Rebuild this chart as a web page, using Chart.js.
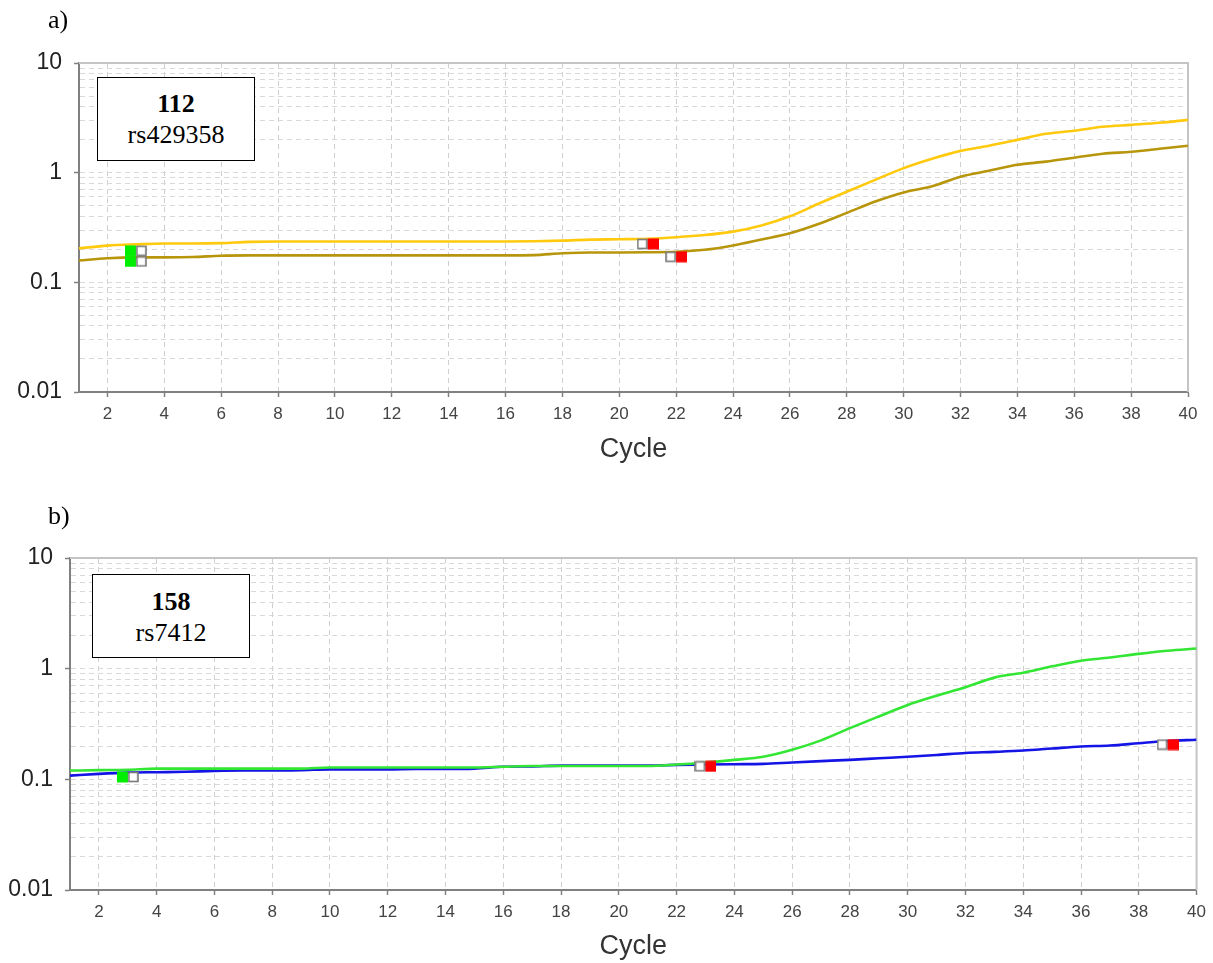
<!DOCTYPE html>
<html>
<head>
<meta charset="utf-8">
<script src="https://cdn.jsdelivr.net/npm/chart.js@4.4.1/dist/chart.umd.min.js"></script>
<style>
  html, body { margin:0; padding:0; background:#fff; }
  body { width:1213px; height:963px; position:relative; overflow:hidden; }
  .cv { position:absolute; left:0; }
  .panel-label { position:absolute; font-family:'Liberation Serif','Times New Roman',serif; font-size:26px; line-height:26px; color:#000; }
  .box { position:absolute; border:1px solid #000; background:#fff; font-family:'Liberation Serif','Times New Roman',serif; font-size:26px; line-height:31px; text-align:center; color:#000; box-sizing:border-box; z-index:5; }
  .box b { font-weight:bold; }
</style>
</head>
<body>
<canvas id="chartA" class="cv" width="1213" height="480" style="top:0;width:1213px;height:480px"></canvas>
<canvas id="chartB" class="cv" width="1213" height="483" style="top:480px;width:1213px;height:483px"></canvas>

<div class="panel-label" style="left:48px;top:7px">a)</div>
<div class="panel-label" style="left:48px;top:503px">b)</div>

<div class="box" style="left:97px;top:77px;width:158px;height:84px;padding-top:10px"><b>112</b><br>rs429358</div>
<div class="box" style="left:92px;top:574px;width:158px;height:84px;padding-top:11px"><b>158</b><br>rs7412</div>

<script>
// ---------- data ----------
const cycles = [1,2,3,4,5,6,7,8,9,10,11,12,13,14,15,16,17,18,19,20,21,22,23,24,25,26,27,28,29,30,31,32,33,34,35,36,37,38,39,40];

// Panel a (112, rs429358)
const seriesA_yellow = [0.204,0.216,0.222,0.226,0.226,0.228,0.234,0.236,0.236,0.236,0.236,0.236,0.236,0.236,0.236,0.236,0.237,0.240,0.245,0.247,0.250,0.258,0.270,0.290,0.330,0.400,0.520,0.670,0.860,1.10,1.34,1.58,1.76,1.99,2.26,2.41,2.62,2.73,2.85,3.03];
const seriesA_gold   = [0.158,0.166,0.169,0.169,0.170,0.175,0.176,0.176,0.176,0.176,0.176,0.176,0.176,0.176,0.176,0.176,0.177,0.184,0.187,0.187,0.188,0.190,0.198,0.217,0.246,0.280,0.340,0.430,0.545,0.660,0.750,0.920,1.04,1.18,1.26,1.37,1.49,1.55,1.65,1.76];

// Panel b (158, rs7412)
const seriesB_green = [0.120,0.121,0.122,0.125,0.125,0.125,0.125,0.125,0.125,0.128,0.128,0.128,0.128,0.128,0.128,0.130,0.132,0.132,0.132,0.132,0.132,0.136,0.142,0.150,0.160,0.185,0.225,0.290,0.370,0.470,0.570,0.680,0.830,0.920,1.05,1.18,1.26,1.36,1.45,1.52];
const seriesB_blue  = [0.108,0.112,0.115,0.116,0.117,0.119,0.120,0.120,0.121,0.123,0.123,0.123,0.124,0.124,0.125,0.130,0.131,0.133,0.133,0.133,0.133,0.135,0.136,0.137,0.138,0.142,0.146,0.150,0.155,0.160,0.166,0.173,0.177,0.182,0.190,0.198,0.202,0.212,0.222,0.228];

// threshold markers (start = green, end = red)
const startA_cycles = [3, 3];
const startA_values = [0.194, 0.155];
const endA_cycles   = [21, 22];
const endA_values   = [0.224, 0.171];
const startB_cycles = [3];
const startB_values = [0.105];
const endB_cycles   = [23, 39];
const endB_values   = [0.131, 0.206];

// axis ticks
const xTickValues = [2,4,6,8,10,12,14,16,18,20,22,24,26,28,30,32,34,36,38,40];
const yDecades    = [0.01, 0.1, 1, 10];
const yTickLabels = ['0.01', '0.1', '1', '10'];
const xTitle = 'Cycle';

// ---------- helpers ----------
function pts(xs, ys) { return xs.map((x, i) => ({ x: x, y: ys[i] })); }

function makeMarker(color, coloredLeft) {
  const c = document.createElement('canvas');
  c.width = 22; c.height = 12;
  const g = c.getContext('2d');
  const colX = coloredLeft ? 0 : 11;
  const boxX = coloredLeft ? 11 : 0;
  g.fillStyle = color;
  g.fillRect(colX, 0.5, 11, 11);
  g.fillStyle = '#fff';
  g.fillRect(boxX + 1, 1.5, 9, 9);
  g.strokeStyle = '#7a7a7a';
  g.lineWidth = 1.6;
  g.strokeRect(boxX + 1, 1.5, 9, 9);
  return c;
}
const greenMarker = makeMarker('#00ee00', true);
const redMarker = makeMarker('#ff0000', false);

const yMinorTicks = [];
for (let d = 0; d < yDecades.length; d++) {
  const base = yDecades[d];
  if (d < yDecades.length - 1) {
    for (let m = 1; m <= 9; m++) yMinorTicks.push(+(base * m).toPrecision(3));
  } else {
    yMinorTicks.push(base);
  }
}
function isDecade(v) { return yDecades.some(d => Math.abs(v - d) / d < 1e-6); }
function decadeLabel(v) {
  for (let i = 0; i < yDecades.length; i++) if (Math.abs(v - yDecades[i]) / yDecades[i] < 1e-6) return yTickLabels[i];
  return '';
}

const frame = {
  id: 'frame',
  beforeDatasetsDraw(chart) {
    const { ctx, chartArea: a } = chart;
    ctx.save();
    ctx.strokeStyle = '#c4c4c4';
    ctx.lineWidth = 2;
    ctx.beginPath();
    ctx.moveTo(a.left, a.top);
    ctx.lineTo(a.right, a.top);
    ctx.lineTo(a.right, a.bottom);
    ctx.stroke();
    ctx.restore();
  }
};

function buildChart(id, cfg) {
  const lineDs = cfg.lines.map(l => ({
    data: pts(cycles, l.values),
    borderColor: l.color,
    borderWidth: 2.6,
    pointRadius: 0,
    fill: false,
    tension: 0.4,
    cubicInterpolationMode: 'monotone',
    order: 1
  }));
  const markerDs = [
    { data: pts(cfg.startX, cfg.startY), pointStyle: greenMarker, showLine: false, pointRadius: 6, order: 0 },
    { data: pts(cfg.endX, cfg.endY), pointStyle: redMarker, showLine: false, pointRadius: 6, order: 0 }
  ];
  return new Chart(document.getElementById(id), {
    type: 'line',
    data: { datasets: markerDs.concat(lineDs) },
    options: {
      responsive: false,
      animation: false,
      events: [],
      layout: { padding: { top: cfg.padTop, right: cfg.padRight, left: 0, bottom: 0 } },
      plugins: { legend: { display: false }, tooltip: { enabled: false } },
      scales: {
        x: {
          type: 'linear', min: 1, max: 40,
          afterBuildTicks: s => { s.ticks = xTickValues.map(v => ({ value: v })); },
          afterFit: s => { s.height = cfg.xHeight; },
          ticks: { autoSkip: false, maxRotation: 0, padding: 7, color: '#444',
                   font: { family: "'Liberation Sans Narrow','Arial Narrow','Liberation Sans',Arial,sans-serif", size: 17 },
                   callback: v => String(v) },
          grid: { color: '#cfcfcf', lineWidth: 1, tickLength: 5, tickColor: '#808080', tickWidth: 1.5 },
          border: { color: '#808080', width: 2, dash: [5, 4] },
          title: { display: true, text: xTitle, color: '#333',
                   font: { family: "'Liberation Sans',Arial,sans-serif", size: 27 },
                   padding: { top: 0, bottom: cfg.titlePad } }
        },
        y: {
          type: 'logarithmic', min: 0.01, max: 10,
          afterBuildTicks: s => { s.ticks = yMinorTicks.map(v => ({ value: v, major: isDecade(v) })); },
          afterFit: s => { s.width = cfg.yWidth; },
          ticks: { autoSkip: false, padding: 12, color: '#222',
                   font: { family: "'Liberation Sans',Arial,sans-serif", size: 23 },
                   callback: v => decadeLabel(v) },
          grid: { color: '#d9d9d9', lineWidth: 1, tickLength: 5,
                  tickColor: c => (c.tick && isDecade(c.tick.value)) ? '#808080' : 'rgba(0,0,0,0)',
                  tickWidth: 1.5 },
          border: { color: '#808080', width: 2, dash: [5, 4] }
        }
      }
    },
    plugins: [frame]
  });
}

buildChart('chartA', {
  lines: [ { values: seriesA_yellow, color: '#ffc90e' }, { values: seriesA_gold, color: '#b8960c' } ],
  startX: startA_cycles, startY: startA_values, endX: endA_cycles, endY: endA_values,
  padTop: 63, padRight: 25, xHeight: 88, yWidth: 79, titlePad: 14
});
buildChart('chartB', {
  lines: [ { values: seriesB_green, color: '#33e633' }, { values: seriesB_blue, color: '#1414e6' } ],
  startX: startB_cycles, startY: startB_values, endX: endB_cycles, endY: endB_values,
  padTop: 78, padRight: 16, xHeight: 73, yWidth: 70, titlePad: 0
});
</script>
</body>
</html>
